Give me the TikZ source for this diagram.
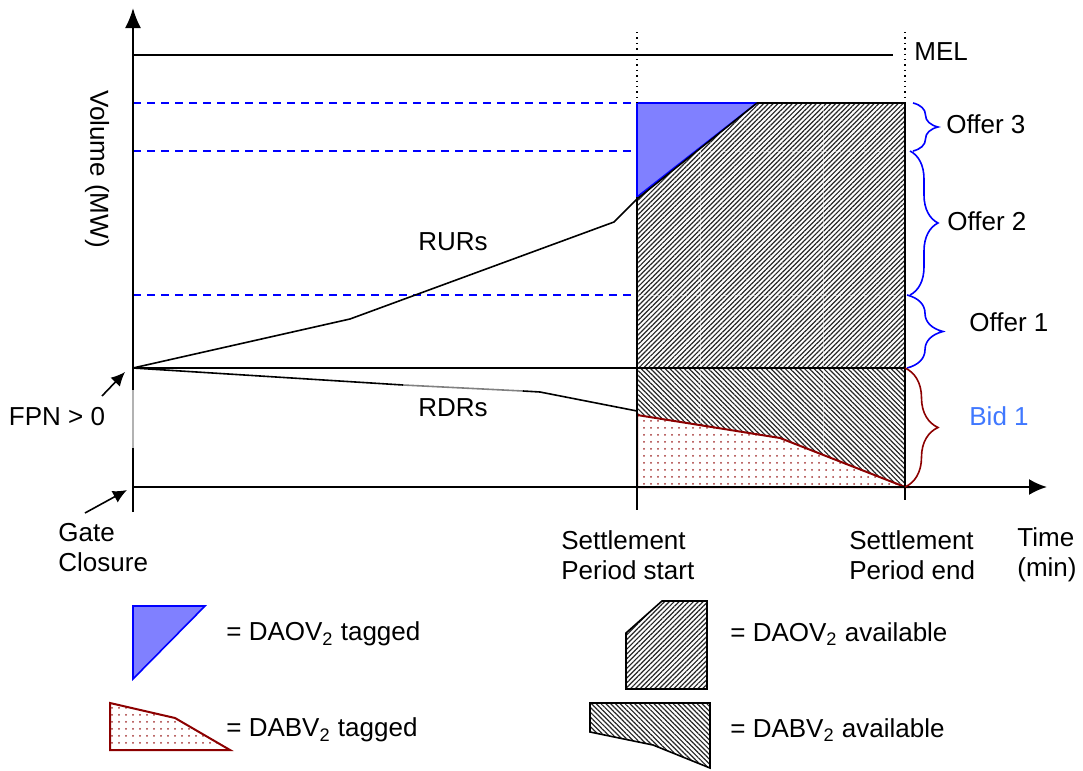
\documentclass[tikz,border=0pt]{standalone}
\usepackage{fontspec}
\setmainfont{Liberation Sans}
\usetikzlibrary{arrows.meta,patterns.meta,decorations.pathreplacing}
\definecolor{darkred}{RGB}{140,0,0}
\definecolor{bidblue}{RGB}{64,120,255}
\definecolor{trifill}{RGB}{128,128,255}
\tikzset{
  axis/.style={line width=1pt},
  thin line/.style={line width=0.8pt},
  offerdash/.style={blue, line width=0.8pt, dash pattern=on 4pt off 3pt},
  hatchup/.style={pattern={Lines[angle=45,distance=1.7pt,line width=0.6pt]}, pattern color=black!85},
  hatchdown/.style={pattern={Lines[angle=-45,distance=1.7pt,line width=0.6pt]}, pattern color=black!85},
  reddots/.style={draw=darkred, line width=1pt, pattern={Dots[distance=3.5pt,radius=0.5pt]}, pattern color=darkred!80},
  tagblue/.style={draw=blue, line width=0.8pt, fill=trifill},
  offerbrace/.style={blue, line width=0.8pt, decorate},
  bidbrace/.style={darkred, line width=0.8pt, decorate},
  lbl/.style={inner sep=0pt},
  ptr/.style={line width=0.8pt, -{Latex[length=7pt,width=6.5pt]}},
  faint/.style={white, line width=0.3pt, opacity=0.5}
}
\begin{document}
\begin{tikzpicture}[x=0.5pt, y=-0.5pt, font=\fontsize{13pt}{15pt}\selectfont]
\useasboundingbox (0,0) rectangle (1083,771);

% key coordinates
\coordinate (O) at (133,368);
\coordinate (G) at (133,487);

% hatched regions
\path[hatchup] (637,197) -- (757,103) -- (905,103) -- (905,368) -- (637,368) -- cycle;
\path[hatchdown] (637,368) -- (905,368) -- (905,487) -- (780,438) -- (637,415) -- cycle;
\draw[faint] (700,103) -- (700,487) (823,103) -- (823,487);
\draw[faint, dash pattern=on 4pt off 3pt] (637,151) -- (905,151) (637,295) -- (905,295);

% tagged regions
\draw[tagblue] (637,103) -- (757,103) -- (637,197) -- cycle;
\draw[reddots] (637,415) -- (780,438) -- (905,487) -- (637,487) -- cycle;

% offer levels
\draw[offerdash] (133,103) -- (637,103);
\draw[offerdash] (133,151) -- (637,151);
\draw[offerdash] (133,295) -- (637,295);

% MEL
\draw[thin line] (133,55) -- (893,55);
\node[lbl, anchor=west] (mel) at (914,52) {MEL};

% settlement period boundaries
\draw[dotted, line width=0.7pt] (637,32) -- (637,103);
\draw[dotted, line width=0.7pt] (905,32) -- (905,103);
\draw[thin line] (637,197) -- (637,510);
\draw[thin line] (905,103) -- (905,500);
\draw[thin line] (757,103) -- (905,103);

% FPN line
\draw[line width=1.4pt] (O) -- (905,368);

% RURs and RDRs
\draw[thin line] (O) -- (350,319) -- (614,222) -- (637,199) -- (757,103);
\draw[thin line] (O) -- (403,385);
\draw[thin line, gray] (403,385) -- (523,391);
\draw[thin line] (523,391) -- (540,392) -- (637,411);
\node[lbl] (rurs) at (453,242) {RURs};
\node[lbl] (rdrs) at (453,408) {RDRs};

% axes
\draw[axis, -{Latex[length=10pt,width=8pt]}] (133,512) -- (133,8);
\draw[axis, gray!60] (133,390) -- (133,448);
\draw[axis, -{Latex[length=9pt,width=8pt]}] (133,487) -- (1047,487);
\node[lbl, rotate=-90] (vol) at (97,169) {Volume (MW)};

% FPN and gate closure
\node[lbl] (fpn) at (57,417) {FPN > 0};
\coordinate (fpnA) at (102,396);
\coordinate (fpnT) at (125,372);
\draw[ptr] (fpnA) -- (fpnT);
\node[lbl, anchor=west, align=left] (gate) at (58,548) {Gate\\Closure};
\coordinate (gateA) at (85,513);
\coordinate (gateT) at (127,490);
\draw[ptr] (gateA) -- (gateT);

% time labels
\node[lbl, anchor=west, align=left] (sps) at (561,555) {Settlement\\Period start};
\node[lbl, anchor=west, align=left] (spe) at (849,555) {Settlement\\Period end};
\node[lbl, anchor=west, align=left] (time) at (1017,555) {Time\\(min)};

% braces
\draw[offerbrace, decoration={brace, amplitude=12.5pt}] (913,103) -- (913,151);
\draw[offerbrace, decoration={brace, amplitude=14pt}] (910,151) -- (910,295);
\draw[offerbrace, decoration={brace, amplitude=18pt}] (907,295) -- (907,368);
\draw[bidbrace, decoration={brace, amplitude=16.5pt}] (905,368) -- (905,487);
\node[lbl, anchor=west] (o3) at (946,124) {Offer 3};
\node[lbl, anchor=west] (o2) at (947,221) {Offer 2};
\node[lbl, anchor=west] (o1) at (969,322) {Offer 1};
\node[lbl, anchor=west, text=bidblue] (b1) at (969,416) {Bid 1};

% legend
\draw[tagblue] (133,606) -- (205,606) -- (133,679) -- cycle;
\node[lbl, anchor=west] (l1) at (226,634) {= DAOV\textsubscript{2} tagged};
\draw[reddots] (110,703) -- (175,718) -- (230,750) -- (110,750) -- cycle;
\node[lbl, anchor=west] (l2) at (226,730) {= DABV\textsubscript{2} tagged};
\draw[hatchup, line width=0.8pt] (626,633) -- (662,601) -- (707,601) -- (707,689) -- (626,689) -- cycle;
\node[lbl, anchor=west] (l3) at (730,634) {= DAOV\textsubscript{2} available};
\draw[hatchdown, line width=0.8pt] (590,703) -- (710,703) -- (710,768) -- (653,745) -- (590,732) -- cycle;
\node[lbl, anchor=west] (l4) at (730,730) {= DABV\textsubscript{2} available};
\end{tikzpicture}
\end{document}
